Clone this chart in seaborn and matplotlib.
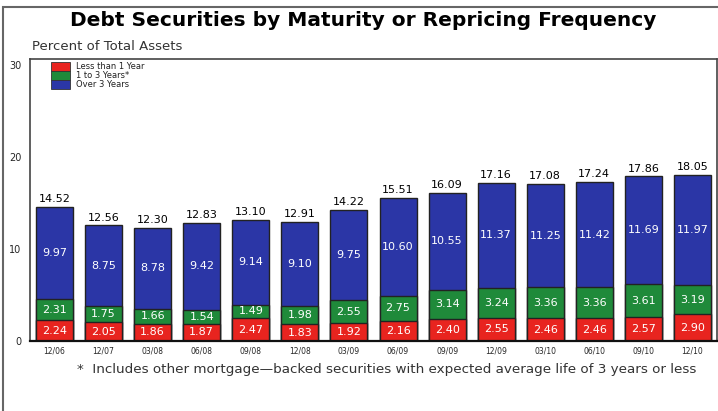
import matplotlib
matplotlib.use("Agg")
import matplotlib.pyplot as plt
import seaborn as sns
import pandas as pd
import numpy as np
from matplotlib.patches import Rectangle

# Quarter-end dates
periods = ["12/06", "12/07", "03/08", "06/08", "09/08", "12/08", "03/09",
           "06/09", "09/09", "12/09", "03/10", "06/10", "09/10", "12/10"]

# Percent of total assets, by maturity bucket
less_1yr = [2.24, 2.05, 1.86, 1.87, 2.47, 1.83, 1.92, 2.16, 2.40, 2.55, 2.46, 2.46, 2.57, 2.90]
yrs_1_3 = [2.31, 1.75, 1.66, 1.54, 1.49, 1.98, 2.55, 2.75, 3.14, 3.24, 3.36, 3.36, 3.61, 3.19]
over_3yr = [9.97, 8.75, 8.78, 9.42, 9.14, 9.10, 9.75, 10.60, 10.55, 11.37, 11.25, 11.42, 11.69, 11.97]
totals = [14.52, 12.56, 12.30, 12.83, 13.10, 12.91, 14.22, 15.51, 16.09, 17.16, 17.08, 17.24, 17.86, 18.05]

series_names = ["Less than 1 Year", "1 to 3 Years*", "Over 3 Years"]
colors = ["#e8241f", "#1f8a3a", "#2b36a6"]

df = pd.DataFrame({"period": periods, "red": less_1yr, "green": yrs_1_3, "blue": over_3yr})
df["cum_red"] = df["red"]
df["cum_green"] = df["red"] + df["green"]
df["cum_blue"] = df["cum_green"] + df["blue"]

sns.set_theme(style="white")
plt.rcParams["font.family"] = ["DejaVu Sans"]

W, H = 718, 411
fig = plt.figure(figsize=(W / 100, H / 100), dpi=100)
ax = fig.add_axes([30 / W, (H - 341) / H, (717 - 30) / W, (341 - 59) / H])

bw = 0.755
edge = "#222222"
# stacked bars: draw cumulative heights from the tallest layer down
for col, c in [("cum_blue", colors[2]), ("cum_green", colors[1]), ("cum_red", colors[0])]:
    sns.barplot(data=df, x="period", y=col, color=c, width=bw, saturation=1,
                edgecolor=edge, linewidth=1.0, ax=ax, errorbar=None)

# value labels inside segments
for i in range(len(periods)):
    r, g, b = less_1yr[i], yrs_1_3[i], over_3yr[i]
    ax.text(i, r / 2, f"{r:.2f}", ha="center", va="center", color="white", fontsize=8)
    ax.text(i, r + g / 2, f"{g:.2f}", ha="center", va="center", color="white", fontsize=8)
    ax.text(i, r + g + b / 2, f"{b:.2f}", ha="center", va="center", color="white", fontsize=8)
    ax.annotate(f"{totals[i]:.2f}", (i, r + g + b), xytext=(0, 2), textcoords="offset points",
                ha="center", va="bottom", color="black", fontsize=8)

ax.set_xlim(-0.5, 13.5)
ax.set_ylim(0, 30.6)
ax.set_yticks([0, 10, 20, 30])
ax.set_yticklabels(["0", "10", "20", "30"], fontsize=7)
ax.tick_params(axis="y", length=0, pad=6)
ax.tick_params(axis="x", length=0, pad=4, labelsize=5.5)
ax.set_xlabel("")
ax.set_ylabel("")
for s in ax.spines.values():
    s.set_color("#444444")
    s.set_linewidth(1.2)
ax.spines["bottom"].set_color("#111111")
ax.spines["bottom"].set_linewidth(1.6)

# legend swatches and labels
for k, (name, c) in enumerate(zip(series_names, colors)):
    y0 = (H - 62 - 9 * (k + 1)) / H
    fig.patches.append(Rectangle((51 / W, y0), 19 / W, 9 / H, transform=fig.transFigure,
                                 facecolor=c, edgecolor="#333333", linewidth=0.6))
    fig.text(76 / W, y0 + 4.5 / H, name, fontsize=6, va="center", ha="left", color="#222222")

# titles and notes
fig.text(363 / W, (H - 21) / H, "Debt Securities by Maturity or Repricing Frequency",
         ha="center", va="center", fontsize=14.5, fontweight="bold", color="black")
fig.text(32 / W, (H - 47) / H, "Percent of Total Assets", ha="left", va="center",
         fontsize=9.5, color="#333333")
fig.text(77 / W, (H - 369) / H,
         "*  Includes other mortgage\u2014backed securities with expected average life of 3 years or less",
         ha="left", va="center", fontsize=9.7, color="#333333")

# outer frame
fig.patches.append(Rectangle((3 / W, -0.05), 1.2, (H - 7) / H + 0.05, transform=fig.transFigure,
                             facecolor="none", edgecolor="#666666", linewidth=1.5))

fig.savefig("out.png", dpi=100)
